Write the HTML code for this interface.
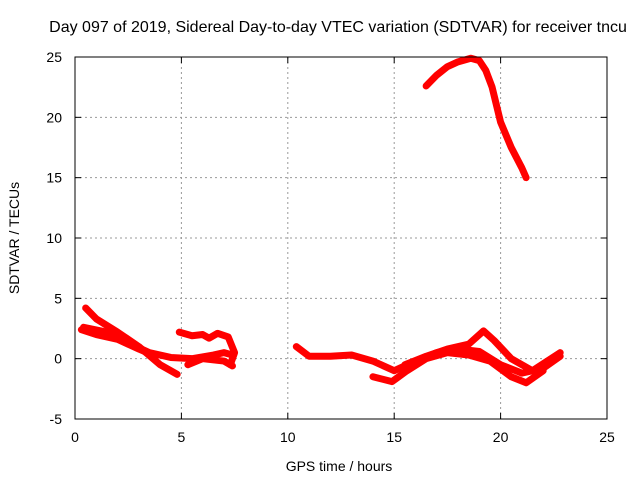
<!DOCTYPE html>
<html><head><meta charset="utf-8">
<style>body{margin:0;background:#fff}svg{display:block;font-family:"Liberation Sans",sans-serif}</style>
</head><body>
<svg id="chart" width="640" height="480">
<text x="338" y="32" font-size="16" text-anchor="middle">Day 097 of 2019, Sidereal Day-to-day VTEC variation (SDTVAR) for receiver tncu</text>
<text x="339" y="471" font-size="14" text-anchor="middle">GPS time / hours</text>
<text transform="translate(19,238) rotate(-90)" font-size="14" text-anchor="middle">SDTVAR / TECUs</text>
<g id="grid"></g><g id="ticks"></g><g id="series"></g>
<rect x="75" y="57" width="532" height="362" fill="none" stroke="#000" stroke-width="1"/>
</svg>
<script>
const xTicks=[0,5,10,15,20,25];
const yTicks=[-5,0,5,10,15,20,25];
const t1=[0.5,1,2,3,4,4.8];
const v1=[4.2,3.3,2.2,1,-0.5,-1.3];
const t2=[0.4,1.5,2.5,3.5,4.5,5.5,6.5,7,7.4];
const v2=[2.6,2.2,1.3,0.5,0.1,0,0.3,0.5,0.3];
const t3=[0.3,1,2,3,3.8];
const v3=[2.4,2.0,1.6,0.8,0.2];
const t4=[4.9,5.5,6,6.3,6.7,7.2,7.5,7.3];
const v4=[2.2,1.9,2.0,1.7,2.1,1.8,0.5,-0.5];
const t5=[5.3,6,7,7.4];
const v5=[-0.5,0,-0.2,-0.6];
const t6=[10.4,11,12,13,14,15,16,17,18,19,20,21,22,22.8];
const v6=[1.0,0.2,0.2,0.3,-0.2,-1,-0.2,0.5,0.8,0.6,-0.5,-1.2,-0.8,0.2];
const t7=[14,14.9,15.6,16.5,17.5,18.5,19.5,20.5,21.2,22];
const v7=[-1.5,-1.9,-1,0,0.5,0.3,-0.2,-1.5,-2,-1];
const t8=[15.5,16.5,17.5,18.5,19.2,19.7,20.5,21.5,22.8];
const v8=[-0.5,0.2,0.8,1.2,2.3,1.5,0,-1,0.5];
const t9=[16.5,17,17.5,18,18.6,19,19.3,19.6,20,20.5,21,21.2];
const v9=[22.6,23.5,24.2,24.6,24.9,24.7,23.9,22.5,19.6,17.5,15.8,15];
const tracks=[[t1,v1],[t2,v2],[t3,v3],[t4,v4],[t5,v5],[t6,v6],[t7,v7],[t8,v8],[t9,v9]];
const X=t=>75+t*532/25, Y=v=>57+(25-v)*362/30;
const NS='http://www.w3.org/2000/svg';
const g=document.getElementById('grid'),tk=document.getElementById('ticks'),s=document.getElementById('series');
function mk(tag,p,a){const e=document.createElementNS(NS,tag);for(const k in a)e.setAttribute(k,a[k]);p.appendChild(e);return e;}
xTicks.forEach(t=>{
 if(t>0&&t<25){const l=mk('line',g,{x1:X(t),x2:X(t),y1:57,y2:419,stroke:'#999','stroke-dasharray':'2,3'});
 
 }
 mk('line',tk,{x1:X(t),x2:X(t),y1:419,y2:413,stroke:'#000'});
 mk('line',tk,{x1:X(t),x2:X(t),y1:57,y2:63,stroke:'#000'});
 const tx=mk('text',tk,{x:X(t),y:442,'font-size':14,'text-anchor':'middle'});tx.textContent=t;
 
 
});
yTicks.forEach(v=>{
 if(v>-5&&v<25){const l=mk('line',g,{x1:75,x2:607,y1:Y(v),y2:Y(v),stroke:'#999','stroke-dasharray':'2,3'});
 
 }
 mk('line',tk,{x1:75,x2:81,y1:Y(v),y2:Y(v),stroke:'#000'});
 mk('line',tk,{x1:607,x2:601,y1:Y(v),y2:Y(v),stroke:'#000'});
 const tx=mk('text',tk,{x:62,y:Y(v)+5,'font-size':14,'text-anchor':'end'});tx.textContent=v;
 
 
});
tracks.forEach(([ts,vs])=>{
 const pl=mk('polyline',s,{points:ts.map((t,i)=>X(t)+','+Y(vs[i])).join(' '),fill:'none',stroke:'#f00','stroke-width':7,'stroke-linejoin':'round','stroke-linecap':'round'});
 
 
});
</script>
</body></html>
